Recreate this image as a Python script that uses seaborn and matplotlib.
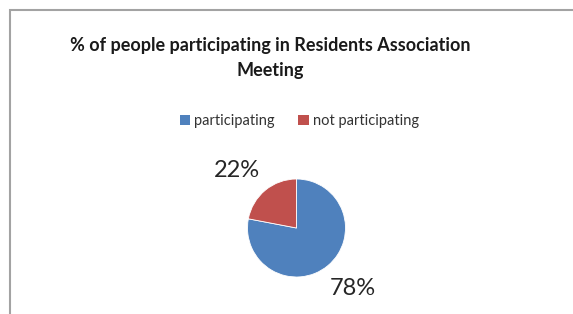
import matplotlib
matplotlib.use("Agg")
import matplotlib.pyplot as plt
from matplotlib.patches import Rectangle, Patch
import seaborn as sns

# data
labels = ["participating", "not participating"]
shares = [78, 22]
title = "% of people participating in Residents Association\nMeeting"

sns.set_theme(style="white")
plt.rcParams["font.family"] = ["Lato", "DejaVu Sans"]
colors = ["#4F81BD", "#C0504D"]

W, H = 573, 314
fig = plt.figure(figsize=(W / 100, H / 100), dpi=100)

# chart frame (bottom and right edges run off the picture)
fig.patches.append(Rectangle((9.5 / W, -0.1), 1.2, (H - 10.5) / H + 0.1,
                             transform=fig.transFigure, fill=False,
                             edgecolor="#A3A3A3", linewidth=1.5))

# pie placed in pixel terms: centre (296.5, 228), radius 49
cx, cy, r = 296.5, 228, 49
ax = fig.add_axes([(cx - r) / W, (H - cy - r) / H, 2 * r / W, 2 * r / H])
wedges, _, pct = ax.pie(shares, colors=colors, startangle=90, counterclock=False,
                        autopct="%1.0f%%", pctdistance=1.7,
                        wedgeprops=dict(linewidth=0.6, edgecolor="white"),
                        textprops=dict(fontsize=17, color="#262626"))
ax.set_xlim(-1, 1)
ax.set_ylim(-1, 1)
ax.set_aspect("equal")
ax.axis("off")
# nudge labels to where Excel put them
pct[0].set_position(((353 - cx) / r, (cy - 288.5) / r))
pct[1].set_position(((237 - cx) / r, (cy - 170.5) / r))

fig.text(270 / W, 1 - 58 / H, title, ha="center", va="center", fontsize=13,
         fontweight="bold", color="#1a1a1a", linespacing=1.55)

handles = [Patch(facecolor=c, edgecolor="none") for c in colors]
fig.legend(handles, labels, loc="center", bbox_to_anchor=(299.5 / W, 1 - 121 / H),
           ncol=2, frameon=False, fontsize=10.5, handlelength=0.7, handleheight=0.7,
           handletextpad=0.3, columnspacing=1.6, labelcolor="#333333")

fig.savefig("out.png", dpi=100)
